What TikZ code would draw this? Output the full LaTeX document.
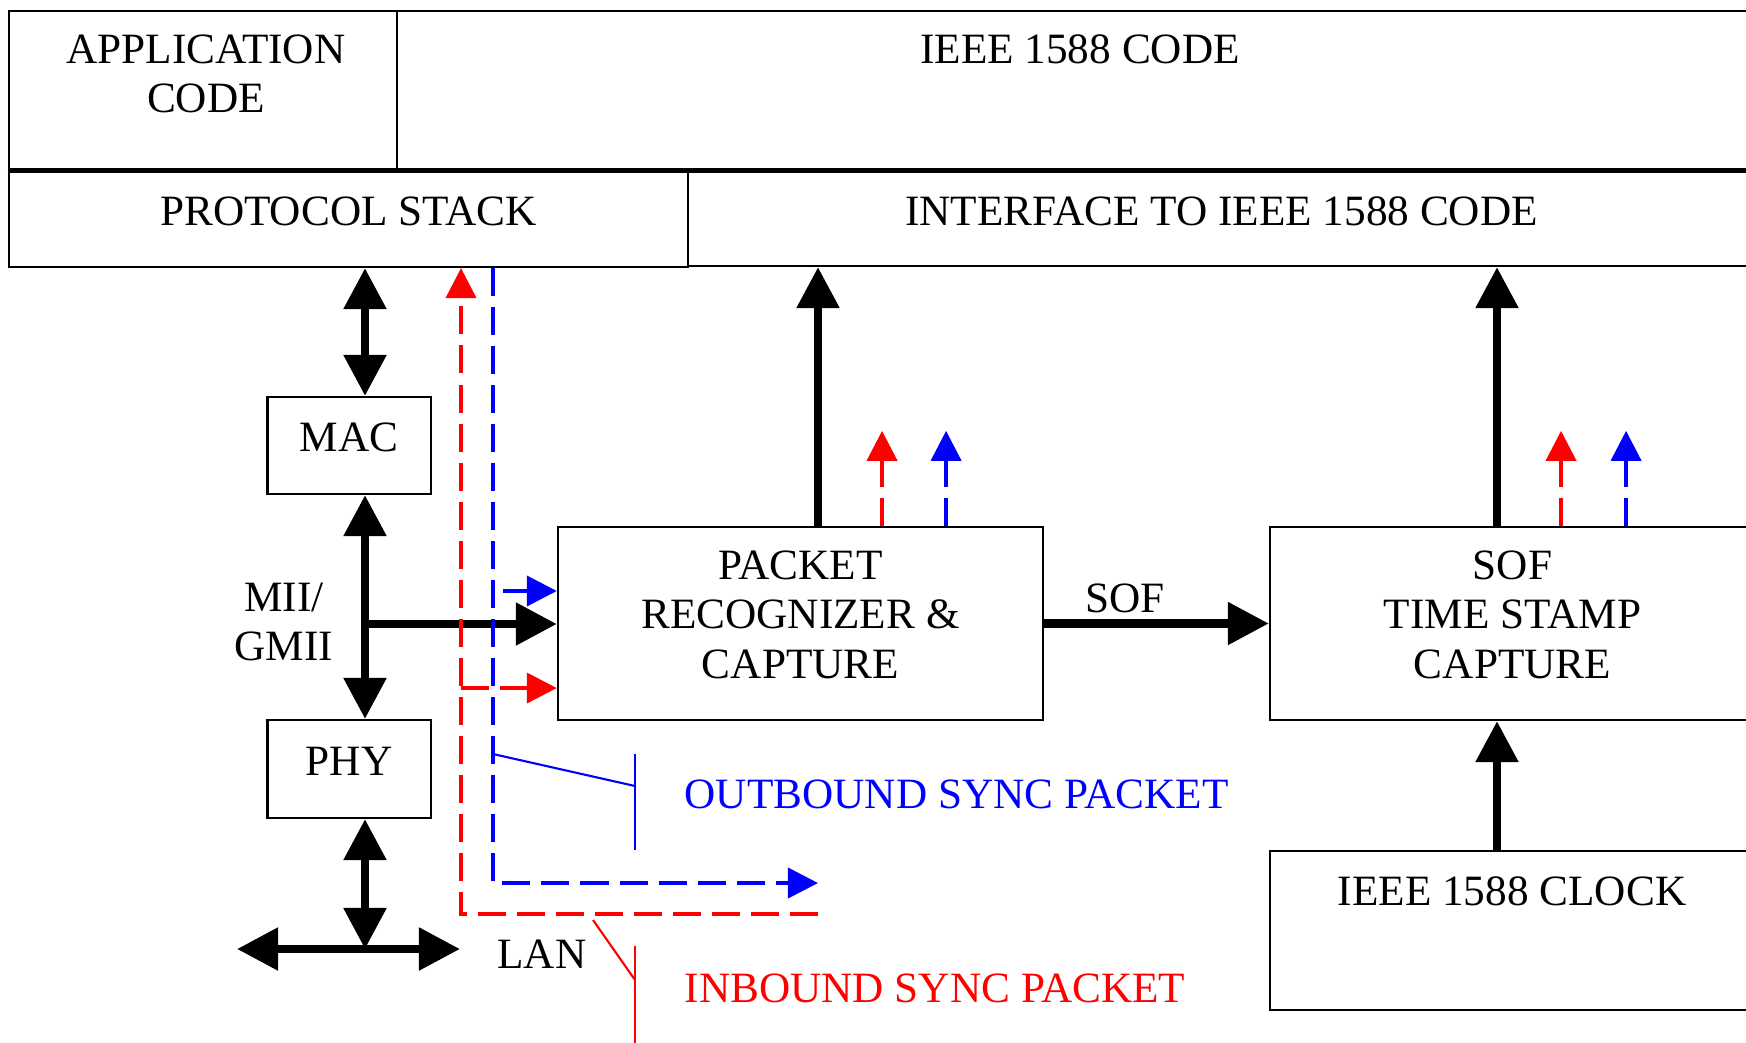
\documentclass[tikz,border=0pt]{standalone}
\usepackage{fontspec}
\setmainfont{Liberation Serif}
\usepackage{xcolor}
\usepackage{tikz}
\usetikzlibrary{positioning,calc,arrows.meta}
\newcommand{\ptpfont}{\fontsize{12.3}{14.1}\selectfont}

\begin{document}
\begin{tikzpicture}[x=0.01cm, y=-0.01cm,
    ptp block/.style={draw, line width=0.6pt, rectangle, inner sep=0pt},
    ptp text/.style={inner sep=0pt, align=center, font=\ptpfont},
    bus/.style={line width=2.4pt, -{Triangle[length=0.41cm, width=0.41cm]}},
    bus both/.style={line width=2.4pt, {Triangle[length=0.41cm, width=0.41cm]}-{Triangle[length=0.41cm, width=0.41cm]}},
    sync/.style={line width=1.1pt, dash pattern=on 0.28cm off 0.11cm},
    sync tip/.style={sync, -{Triangle[length=0.3cm, width=0.3cm]}},
    leader/.style={line width=0.6pt}]
    \useasboundingbox (0,0) rectangle (1746,1042);
    \clip (0,0) rectangle (1746,1042);

    % software layers
    \node[ptp block, minimum width=3.88cm, minimum height=1.59cm] (app) at (203,90.5) {};
    \node[ptp block, minimum width=13.58cm, minimum height=1.59cm] (ieee) at (1076,90.5) {};
    \node[ptp text] (apptext) at (206,74) {APPLICATION\\CODE};
    \node[ptp text] (ieeetext) at (1080,49) {IEEE 1588 CODE};
    \node[ptp block, minimum width=6.79cm, minimum height=0.98cm] (stack) at (348.5,218) {};
    \node[ptp text] (stacktext) at ([yshift=0.065cm]stack) {PROTOCOL STACK};
    \node[ptp block, minimum width=10.67cm, minimum height=0.97cm] (iface) at (1221.5,217.5) {};
    \node[ptp text] (ifacetext) at ([yshift=0.065cm]iface) {INTERFACE TO IEEE 1588 CODE};
    \draw[line width=1.3pt] (app.south west) -- (ieee.south east);

    % hardware blocks
    \node[ptp block, minimum width=1.63cm, minimum height=0.97cm] (mac) at (349,445.5) {};
    \node[ptp text] (mactext) at ([yshift=0.08cm]mac) {MAC};
    \node[ptp block, minimum width=1.63cm, minimum height=0.98cm] (phy) at (349,769) {};
    \node[ptp text] (phytext) at ([yshift=0.08cm]phy) {PHY};
    \node[ptp block, minimum width=4.85cm, minimum height=1.93cm] (pkt) at (800.5,623.5) {};
    \node[ptp text] (pkttext) at ([yshift=0.09cm]pkt) {PACKET\\RECOGNIZER \&\\CAPTURE};
    \node[ptp block, minimum width=4.85cm, minimum height=1.93cm] (sof) at (1512.5,623.5) {};
    \node[ptp text] (softext) at ([yshift=0.09cm]sof) {SOF\\TIME STAMP\\CAPTURE};
    \node[ptp block, minimum width=4.85cm, minimum height=1.59cm] (clk) at (1512.5,930.5) {};
    \node[ptp text] (clktext) at (1512,891) {IEEE 1588 CLOCK};

    % labels
    \node[ptp text] (mii) at (284,622) {MII/\\GMII};
    \node[ptp text] (lan) at (542,954) {LAN};
    \node[ptp text] (soflbl) at (1125,598) {SOF};
    \node[ptp text, text=blue, anchor=west] (outlbl) at (684,794) {OUTBOUND SYNC PACKET};
    \node[ptp text, text=red, anchor=west] (inlbl) at (684,988) {INBOUND SYNC PACKET};

    \coordinate (miix) at (365,624);
    \coordinate (lanx) at (365,949);
    \coordinate (lanw) at (237,949);
    \coordinate (lane) at (460,949);

    % data paths
    \draw[bus both] (stack.south -| miix) -- (mac.north -| miix);
    \draw[bus both] (mac.south -| miix) -- (phy.north -| miix);
    \draw[bus] (miix) -- (pkt.west |- miix);
    \draw[bus both] (phy.south -| lanx) -- (lanx);
    \draw[bus both] (lanw) -- (lane);
    \draw[bus] ([xshift=0.175cm]pkt.north) -- ([xshift=0.175cm]pkt.north |- iface.south);
    \draw[bus] ([xshift=-0.155cm]sof.north) -- ([xshift=-0.155cm]sof.north |- iface.south);
    \draw[bus] ([xshift=-0.155cm]clk.north) -- ([xshift=-0.155cm]sof.south);
    \draw[bus] (pkt.east) -- (sof.west);

    % sync packet flags
    \draw[sync tip, red] ([xshift=0.815cm]pkt.north) -- ([xshift=0.815cm, yshift=0.95cm]pkt.north);
    \draw[sync tip, blue] ([xshift=1.455cm]pkt.north) -- ([xshift=1.455cm, yshift=0.95cm]pkt.north);
    \draw[sync tip, red] ([xshift=0.485cm]sof.north) -- ([xshift=0.485cm, yshift=0.95cm]sof.north);
    \draw[sync tip, blue] ([xshift=1.135cm]sof.north) -- ([xshift=1.135cm, yshift=0.95cm]sof.north);

    % inbound sync packet
    \coordinate (inc) at (461,914);
    \coordinate (ins) at (818,914);
    \coordinate (pktin) at ([yshift=-0.645cm]pkt.west);
    \draw[sync tip, red] (ins) -- (inc) -- (inc |- stack.south);
    \draw[sync tip, red] (inc |- pktin) -- (pktin);

    % outbound sync packet
    \coordinate (outc) at (493,883);
    \coordinate (oute) at (818,883);
    \coordinate (pktout) at ([yshift=0.325cm]pkt.west);
    \draw[sync tip, blue] (outc |- stack.south) -- (outc) -- (oute);
    \draw[sync tip, blue] ([xshift=-0.54cm]pktout) -- (pktout);

    % leaders
    \coordinate (outtap) at (493,754);
    \coordinate (outbar) at (635,786);
    \draw[leader, blue] (outtap) -- (outbar);
    \draw[leader, blue] ([yshift=0.32cm]outbar) -- ([yshift=-0.64cm]outbar);
    \coordinate (intap) at (593,920);
    \coordinate (inbar) at (635,980);
    \draw[leader, red] (intap) -- (inbar);
    \draw[leader, red] ([yshift=0.34cm]inbar) -- ([yshift=-0.7cm]inbar);
\end{tikzpicture}
\end{document}
